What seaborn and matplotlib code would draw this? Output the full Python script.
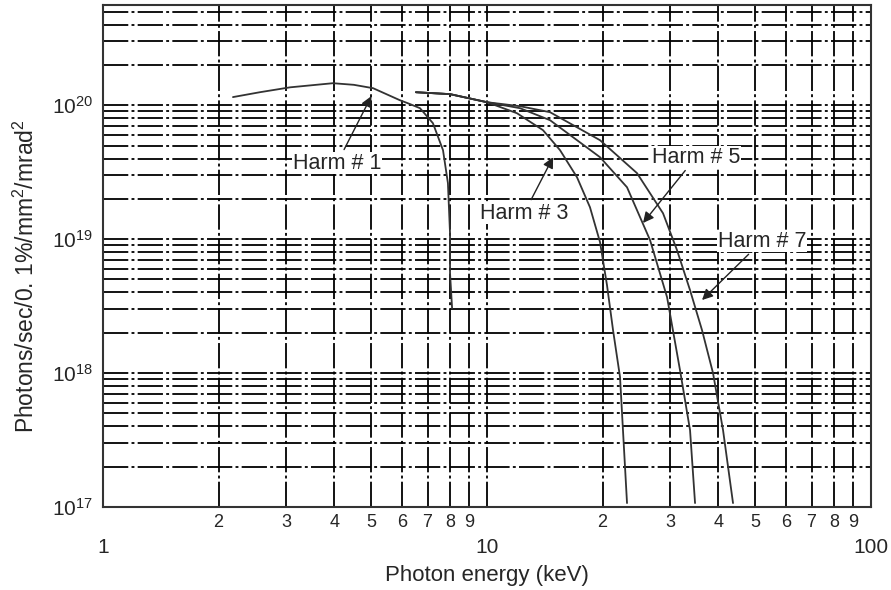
import numpy as np
import pandas as pd
import matplotlib
matplotlib.use('Agg')
import matplotlib.pyplot as plt
import seaborn as sns

# 축 스타일 설정 (set_style 이후에 폰트 지정)
sns.set_style('white')
plt.rcParams['font.family'] = ['Liberation Sans', 'DejaVu Sans']
plt.rcParams['mathtext.fontset'] = 'custom'
plt.rcParams['mathtext.rm'] = 'Liberation Sans'
plt.rcParams['mathtext.it'] = 'Liberation Sans:italic'

# 데이터
harm1_kev = [2.18, 2.56, 3.07, 3.97, 4.5, 5.05, 5.93, 6.30, 6.69, 7.23, 7.68, 7.91, 8.01, 8.01, 8.11]
harm1_flux = [1.15e20, 1.25e20, 1.36e20, 1.46e20, 1.42e20, 1.34e20, 1.09e20, 1.02e20, 9.5e19,
              7.34e19, 4.62e19, 2.62e19, 1.11e19, 5.58e18, 3.05e18]

harm3_kev = [6.53, 8.01, 10.0, 11.97, 13.99, 15.49, 17.15, 18.54, 19.69, 20.53, 21.29, 22.20, 23.15]
harm3_flux = [1.25e20, 1.21e20, 1.053e20, 8.71e19, 6.51e19, 4.62e19, 2.90e19, 1.73e19,
              9.5e18, 4.54e18, 2.09e18, 9.33e17, 1.07e17]

harm5_kev = [6.53, 8.01, 10.0, 12.19, 14.59, 19.69, 23.15, 26.58, 29.43, 31.81, 33.78, 34.81]
harm5_flux = [1.25e20, 1.21e20, 1.053e20, 9.5e19, 7.73e19, 4.09e19, 2.44e19, 9.83e18,
              3.69e18, 1.05e18, 3.75e17, 1.07e17]

harm7_kev = [6.53, 8.01, 10.0, 12.19, 14.59, 19.69, 24.58, 28.73, 31.24, 33.78, 36.30,
             38.77, 41.17, 43.71]
harm7_flux = [1.25e20, 1.21e20, 1.053e20, 9.83e19, 8.87e19, 5.48e19, 3.11e19, 1.56e19,
              8.28e18, 4.16e18, 2.09e18, 1.0e18, 3.75e17, 1.07e17]

# 라벨 (텍스트 위치, 화살표 끝)
labels = ['Harm # 1', 'Harm # 3', 'Harm # 5', 'Harm # 7']
label_xy = [(4.07, 3.69e19), (12.49, 1.56e19), (35.0, 4.09e19), (52.0, 9.66e18)]
arrow_tip = [(5.0, 1.17e20), (14.86, 4.09e19), (25.48, 1.32e19), (36.3, 3.51e18)]

x_major = [1, 10, 100]
x_minor = [2, 3, 4, 5, 6, 7, 8, 9, 20, 30, 40, 50, 60, 70, 80, 90]
x_minor_labels = ['2', '3', '4', '5', '6', '7', '8', '9'] * 2
y_major = [1e17, 1e18, 1e19, 1e20]
y_major_labels = [r'$\mathregular{10^{17}}$', r'$\mathregular{10^{18}}$',
                  r'$\mathregular{10^{19}}$', r'$\mathregular{10^{20}}$']
y_minor = [m * 10.0 ** e for e in (17, 18, 19, 20) for m in range(2, 10)]

frames = []
for name, e, f in [('1', harm1_kev, harm1_flux), ('3', harm3_kev, harm3_flux),
                   ('5', harm5_kev, harm5_flux), ('7', harm7_kev, harm7_flux)]:
    frames.append(pd.DataFrame({'energy': e, 'flux': f, 'harm': name}))
df = pd.concat(frames, ignore_index=True)

fig = plt.figure(figsize=(8.91, 5.90), dpi=100)
ax = fig.add_axes([0.1156, 0.1407, 0.8620, 0.8508])
ax.set_xscale('log')
ax.set_yscale('log')

# 격자 (dash-dot)
grid_ls = (0, (14, 1.8, 1.6, 1.8))
for v in x_major + x_minor:
    ax.axvline(v, color='black', lw=1.3, ls=grid_ls, zorder=1)
for v in y_major + y_minor:
    ax.axhline(v, color='black', lw=1.3, ls=grid_ls, zorder=1)

for name, g in df.groupby('harm'):
    sns.lineplot(data=g, x='energy', y='flux', ax=ax, sort=False, estimator=None,
                 color='#333333', lw=1.3, zorder=3, legend=False)

for txt, xy, tip in zip(labels, label_xy, arrow_tip):
    ax.annotate(txt, xy=tip, xytext=xy, ha='center', va='center', fontsize=15.5,
                bbox=dict(fc='white', ec='none', pad=0.5),
                arrowprops=dict(arrowstyle='-|>', color='#222222', lw=1.0,
                                mutation_scale=16, shrinkA=2, shrinkB=0),
                zorder=5)

ax.set_xticks(x_major)
ax.set_xticklabels(['1', '10', '100'])
ax.set_xticks(x_minor, minor=True)
ax.set_xticklabels(x_minor_labels, minor=True)
ax.set_yticks(y_major)
ax.set_yticklabels(y_major_labels)
ax.set_yticks(y_minor, minor=True)
ax.set_yticklabels([], minor=True)
ax.tick_params(axis='x', which='major', length=0, pad=22, labelsize=15)
ax.tick_params(axis='x', which='minor', length=0, pad=5, labelsize=13)
ax.tick_params(axis='y', which='both', length=0, pad=7, labelsize=15)

ax.set_xlim(1, 100)
ax.set_ylim(1e17, 5.6e20)

ax.set_xlabel('Photon energy (keV)', fontsize=16, labelpad=6)
ax.set_ylabel(r'Photons/sec/0. 1%/mm$^2$/mrad$^2$', fontsize=16.5)
ax.yaxis.set_label_coords(-0.084, 0.46)

for s in ax.spines.values():
    s.set_color('#333333')
    s.set_linewidth(1.5)
    s.set_visible(True)

fig.savefig('out.png', dpi=100)
